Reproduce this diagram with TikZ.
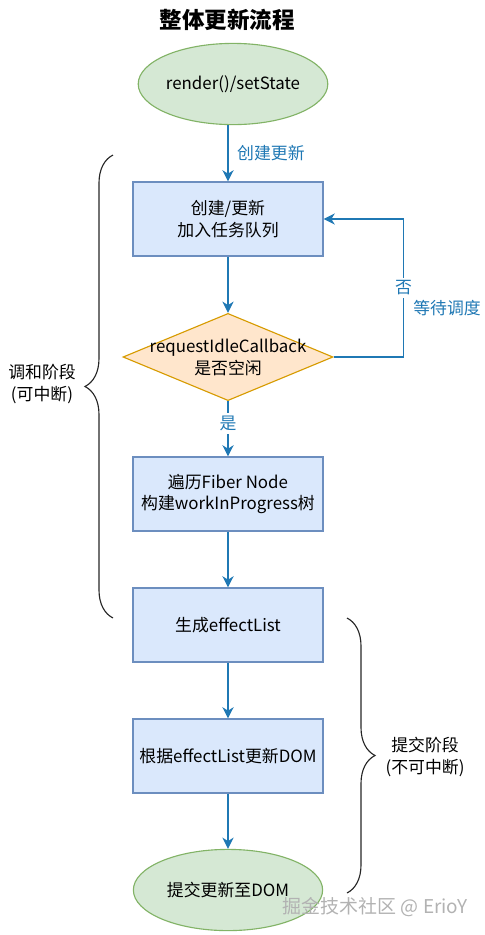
\documentclass[tikz,border=0pt]{standalone}
\usepackage{fontspec}
\setmainfont{Noto Sans CJK SC}
\usepackage{xcolor}
\usepackage{tikz}
\usetikzlibrary{shapes.geometric,arrows.meta,positioning,calc,decorations.pathreplacing}

\definecolor{boxfill}{HTML}{DAE8FC}
\definecolor{boxline}{HTML}{6C8EBF}
\definecolor{endfill}{HTML}{D5E8D4}
\definecolor{endline}{HTML}{82B366}
\definecolor{askfill}{HTML}{FFE6CC}
\definecolor{askline}{HTML}{D79B00}
\definecolor{flowblue}{HTML}{1F78B4}

\tikzset{
  procbox/.style={rectangle, draw=boxline, fill=boxfill, line width=0.8pt,
    minimum width=4.75cm, minimum height=1.85cm, align=center, inner sep=0pt},
  termnode/.style={ellipse, draw=endline, fill=endfill, line width=0.8pt,
    minimum width=4.73cm, minimum height=2.03cm, align=center, inner sep=0pt},
  decide/.style={diamond, draw=askline, fill=askfill, line width=0.8pt,
    minimum width=5.25cm, minimum height=2.18cm, inner sep=0pt},
  flow/.style={draw=flowblue, line width=1pt, -{Stealth[length=8pt, width=8pt, inset=2.5pt]}},
  flowlbl/.style={text=flowblue, inner sep=2pt},
  phasebrace/.style={draw=black!85, line width=0.8pt, decorate,
    decoration={brace, amplitude=0.7cm}},
}

\begin{document}
\begin{tikzpicture}[x=0.025cm, y=-0.025cm, font=\fontsize{12}{15.6}\selectfont]
\useasboundingbox (0,0) rectangle (485,935);

% Title
\node[font=\fontsize{16}{19}\selectfont\bfseries] (title) at (227,20) {整体更新流程};

% Main flow
\node[termnode] (start) at (233,84) {render()/setState};
\node[procbox] (queue) at (228,219) {创建/更新\\加入任务队列};
\node[decide, label={[align=center, font=\fontsize{12}{15.6}\selectfont]center:requestIdleCallback\\是否空闲}] (ask) at (228,357) {};
\node[procbox] (fiber) at (228,494) {遍历Fiber Node\\构建workInProgress树};
\node[procbox] (effect) at (228,625) {生成effectList};
\node[procbox] (patch) at (228,756) {根据effectList更新DOM};
\node[termnode] (commit) at (228,890) {提交更新至DOM};

% Connectors
\draw[flow] (start.south -| queue) -- node[flowlbl, right=4pt] (lblmake) {创建更新} (queue);
\draw[flow] (queue) -- (ask);
\draw[flow] (ask.east) -| node[flowlbl, pos=0.75, fill=white] (lblno) {否} ($(queue.east)+(80,0)$) -- (queue.east);
\node[flowlbl] (lblwait) at (447,308) {等待调度};
\draw[flow] (ask) -- node[flowlbl, pos=0.4, fill=white] (lblyes) {是} (fiber);
\draw[flow] (fiber) -- (effect);
\draw[flow] (effect) -- (patch);
\draw[flow] (patch) -- (commit);

% Phase braces
\coordinate (recbot) at (113,618);
\coordinate (rectop) at (113,155);
\draw[phasebrace] (recbot) -- (rectop);
\node[align=center] (recphase) at (42,384) {调和阶段\\(可中断)};

\coordinate (comtop) at (347,618);
\coordinate (combot) at (347,893);
\draw[phasebrace] (comtop) -- (combot);
\node[align=center] (comphase) at (425,757) {提交阶段\\(不可中断)};

% Watermark
\node[text=black!30, font=\fontsize{13.5}{16}\selectfont] (mark) at (375,907) {掘金技术社区 @ ErioY};
\end{tikzpicture}
\end{document}
